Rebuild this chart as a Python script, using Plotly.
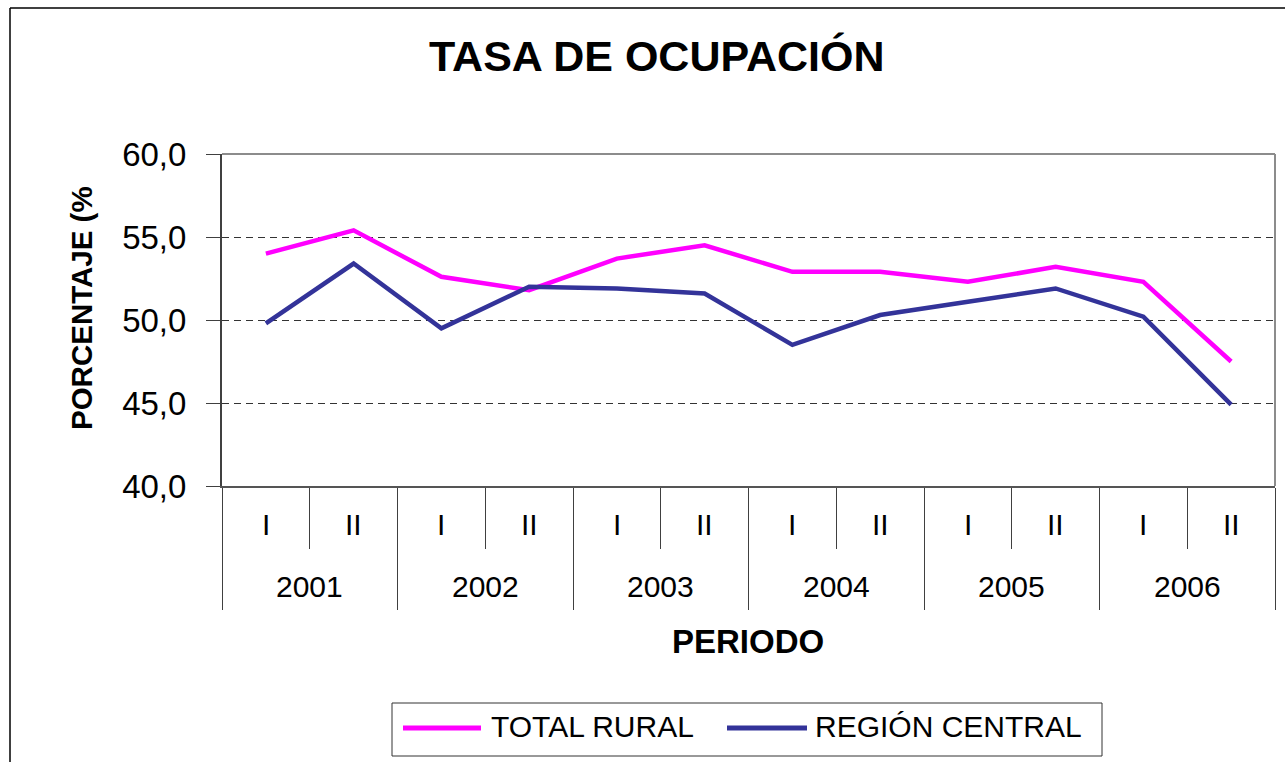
import plotly.graph_objects as go

# ---- data ----
YEARS = ["2001", "2002", "2003", "2004", "2005", "2006"]
HALVES = ["I", "II"]
TOTAL_RURAL = [54.0, 55.4, 52.6, 51.8, 53.7, 54.5, 52.9, 52.9, 52.3, 53.2, 52.3, 47.5]
REGION_CENTRAL = [49.8, 53.4, 49.5, 52.0, 51.9, 51.6, 48.5, 50.3, 51.1, 51.9, 50.2, 44.9]
SERIES_NAMES = ["TOTAL RURAL", "REGIÓN CENTRAL"]

# ---- style ----
COLOR_RURAL = "#FF00FF"
COLOR_CENTRAL = "#333399"
AXIS_DARK = "#404040"
BORDER_GREY = "#8c8c8c"
FONT = "Liberation Sans, Arial, sans-serif"

W, H = 1285, 762
L, R, T, B = 222, 10, 154, 276
PW, PH = W - L - R, H - T - B


def px_x(px):
    return (px - L) / PW


def px_y(py):
    return (H - B - py) / PH


periods = [(y, h) for y in YEARS for h in HALVES]
xs = list(range(len(periods)))

fig = go.Figure()
for name, vals, col in [(SERIES_NAMES[0], TOTAL_RURAL, COLOR_RURAL),
                        (SERIES_NAMES[1], REGION_CENTRAL, COLOR_CENTRAL)]:
    fig.add_trace(go.Scatter(
        x=xs, y=vals, mode="lines", name=name,
        line=dict(color=col, width=4.5),
        showlegend=False,
    ))

# category labels: halves row and years row
annotations = []
for i, (yr, hf) in enumerate(periods):
    annotations.append(dict(x=i, y=0, xref="x", yref="paper", text=hf,
                            showarrow=False, yanchor="middle", yshift=-38,
                            font=dict(size=30, color="black", family=FONT)))
for j, yr in enumerate(YEARS):
    annotations.append(dict(x=2 * j + 0.5, y=0, xref="x", yref="paper", text=yr,
                            showarrow=False, yanchor="middle", yshift=-100,
                            font=dict(size=30, color="black", family=FONT)))

# titles
annotations += [
    dict(x=px_x(657), y=px_y(56), xref="paper", yref="paper",
         text="<b>TASA DE OCUPACIÓN</b>", showarrow=False,
         xanchor="center", yanchor="middle",
         font=dict(size=43, color="black", family=FONT)),
    dict(x=px_x(748), y=px_y(641), xref="paper", yref="paper",
         text="<b>PERIODO</b>", showarrow=False,
         xanchor="center", yanchor="middle",
         font=dict(size=33, color="black", family=FONT)),
    dict(x=px_x(81), y=px_y(308), xref="paper", yref="paper",
         text="<b>PORCENTAJE (%</b>", showarrow=False, textangle=-90,
         xanchor="center", yanchor="middle",
         font=dict(size=29.5, color="black", family=FONT)),
]

# legend (drawn by hand to match the long line samples)
shapes = [
    dict(type="rect", xref="paper", yref="paper",
         x0=px_x(392), x1=px_x(1102), y0=px_y(703), y1=px_y(756),
         line=dict(color="#333333", width=1), fillcolor="white", layer="below"),
]
legend_items = [(SERIES_NAMES[0], COLOR_RURAL, 403, 481, 489),
                (SERIES_NAMES[1], COLOR_CENTRAL, 727, 807, 813)]
for name, col, lx0, lx1, tx in legend_items:
    shapes.append(dict(type="line", xref="paper", yref="paper",
                       x0=px_x(lx0), x1=px_x(lx1), y0=px_y(728), y1=px_y(728),
                       line=dict(color=col, width=5)))
    annotations.append(dict(x=px_x(tx), y=px_y(726), xref="paper", yref="paper",
                            text=name, showarrow=False,
                            xanchor="left", yanchor="middle",
                            font=dict(size=30, color="black", family=FONT)))

# plot border (top + right) and outer chart frame
shapes += [
    dict(type="line", xref="paper", yref="paper", x0=0, x1=1, y0=1, y1=1,
         line=dict(color=BORDER_GREY, width=2)),
    dict(type="line", xref="paper", yref="paper", x0=1, x1=1, y0=0, y1=1,
         line=dict(color=BORDER_GREY, width=2)),
    dict(type="line", xref="paper", yref="paper",
         x0=px_x(10), x1=px_x(10), y0=px_y(8), y1=px_y(762),
         line=dict(color="black", width=1.5)),
    dict(type="line", xref="paper", yref="paper",
         x0=px_x(10), x1=px_x(1285), y0=px_y(8), y1=px_y(8),
         line=dict(color="black", width=1.5)),
]

year_bounds = [2 * j - 0.5 for j in range(len(YEARS) + 1)]
half_bounds = [2 * j + 0.5 for j in range(len(YEARS))]

fig.update_layout(
    width=W, height=H,
    margin=dict(l=L, r=R, t=T, b=B),
    paper_bgcolor="white",
    plot_bgcolor="white",
    separators=",.",
    showlegend=False,
    font=dict(family=FONT, color="black"),
    annotations=annotations,
    shapes=shapes,
    xaxis=dict(
        range=[-0.5, len(periods) - 0.5],
        showgrid=False, zeroline=False,
        showticklabels=False,
        showline=True, linecolor="#555555", linewidth=2,
        ticks="outside", tickmode="array", tickvals=year_bounds,
        ticklen=122, tickcolor=AXIS_DARK, tickwidth=1,
        minor=dict(ticks="outside", tickvals=half_bounds, ticklen=61,
                   tickcolor=AXIS_DARK, tickwidth=1, showgrid=False),
    ),
    yaxis=dict(
        range=[40, 60], dtick=5, tick0=40,
        tickformat=".1f",
        showgrid=True, gridcolor="#333333", gridwidth=1, griddash="7px,5px",
        zeroline=False,
        showline=True, linecolor=AXIS_DARK, linewidth=2,
        ticks="outside", ticklen=14, tickcolor=AXIS_DARK, tickwidth=1,
        ticklabelstandoff=13,
        tickfont=dict(size=33, color="black", family=FONT),
    ),
)

fig.write_html("out.html", config={"displayModeBar": False},
               post_script="document.body.style.margin='0';")
